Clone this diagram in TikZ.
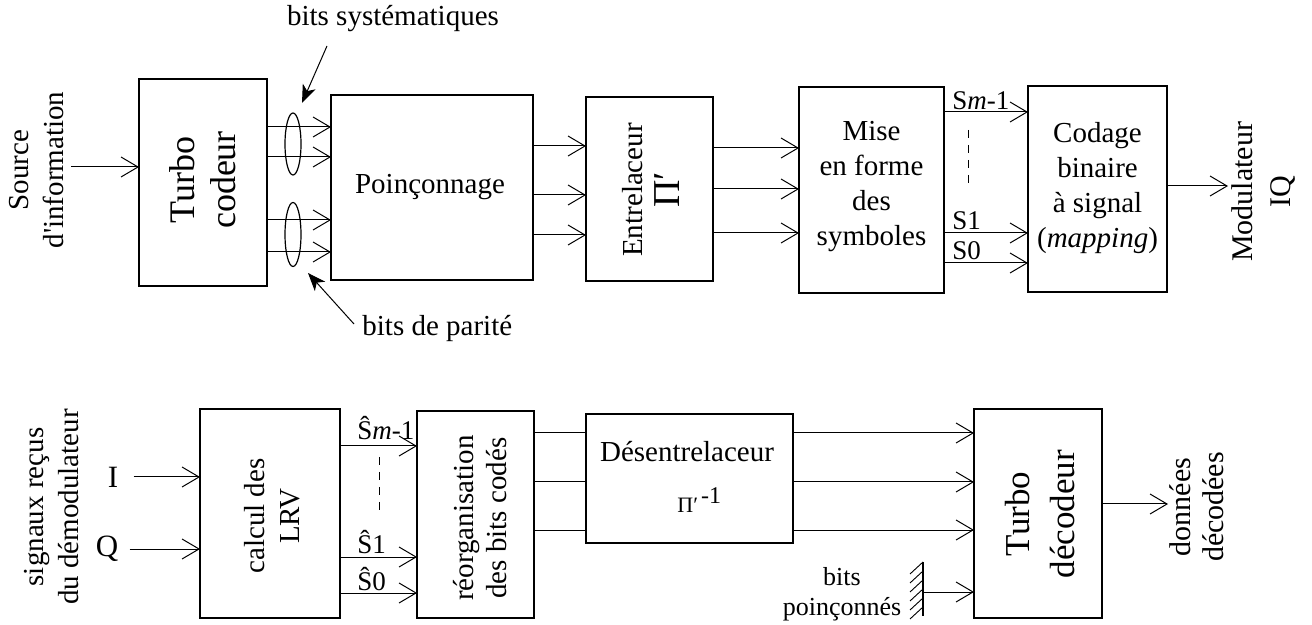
\documentclass[tikz,border=0pt]{standalone}
\usepackage{fontspec}
\setmainfont{Liberation Serif}
\usetikzlibrary{arrows.meta,shapes.geometric}
\newcommand\straightquote{\XeTeXglyph\XeTeXcharglyph"27\relax}
\begin{document}
\begin{tikzpicture}[x=0.5pt,y=-0.5pt,
  box/.style={draw, line width=0.6pt, inner sep=0pt, outer sep=0pt},
  arr/.style={line width=0.5pt, -{Straight Barb[length=8.5pt,width=10pt,line width=0.5pt]}},
  wire/.style={line width=0.5pt},
  pointer/.style={line width=0.5pt, -{Stealth[length=9pt,width=7pt,inset=2.5pt]}},
  lbl/.style={font=\fontsize{14.5}{17.5}\selectfont, inner sep=0pt, align=center},
  sig/.style={font=\fontsize{13.5}{15}\selectfont, inner sep=0pt, anchor=base west},
  dashline/.style={line width=0.5pt, dash pattern=on 4pt off 3.5pt},
  ell/.style={draw, ellipse, line width=0.6pt, inner sep=0pt, minimum width=8pt}
]
\useasboundingbox (0,0) rectangle (1312,625);

% ---------- top row boxes ----------
\node[box, minimum width=64pt, minimum height=103.5pt] (tc) at (203,182.5) {};
\node[box, minimum width=101pt, minimum height=92.5pt] (poin) at (432,187.5) {};
\node[box, minimum width=63.5pt, minimum height=92pt] (ent) at (649.5,189) {};
\node[box, minimum width=72.5pt, minimum height=103pt] (mise) at (871.5,190) {};
\node[box, minimum width=69.5pt, minimum height=103pt] (cod) at (1097.5,189) {};

\node[lbl, rotate=90, font=\fontsize{18}{20.5}\selectfont] (tct) at (203,180) {Turbo\\codeur};
\node[lbl] (point) at (430,187) {Poinçonnage};
\node[lbl, rotate=90] (entt) at (651,190) {Entrelaceur\\[1pt]{\fontsize{19}{19}\selectfont Π′}};
\node[lbl] (miset) at (871.5,187) {Mise\\en forme\\des\\symboles};
\node[lbl] (codt) at (1097.5,188) {Codage\\binaire\\à signal\\(\textit{mapping})};

\node[lbl, rotate=90] (srct) at (37,170) {Source\\d\straightquote information};
\coordinate (src) at (71,167);
\draw[arr] (src) -- (src -| tc.west);

\node[lbl, rotate=90, font=\fontsize{15}{19}\selectfont] (modt) at (1264,192) {Modulateur\\IQ};
\coordinate (mod) at (1228,186);
\draw[arr] (cod.east |- mod) -- (mod);

% turbo codeur -> poinconnage
\foreach \y in {127,157,220,252}
  \draw[arr] (tc.east |- 0,\y) -- (poin.west |- 0,\y);
\node[ell, minimum height=31pt] (e1) at (293,144) {};
\node[ell, minimum height=32pt] (e2) at (293,234.5) {};

\node[lbl] (syst) at (393,19) {bits systématiques};
\coordinate (sysa) at (327,46);
\coordinate (sysb) at (302,103);
\draw[pointer] (sysa) -- (sysb);

\node[lbl, anchor=base west] (part) at (362,336) {bits de parité};
\coordinate (para) at (354,324);
\coordinate (parb) at (308,273);
\draw[pointer] (para) -- (parb);

% poinconnage -> entrelaceur
\foreach \y in {146,195,235}
  \draw[arr] (poin.east |- 0,\y) -- (ent.west |- 0,\y);
% entrelaceur -> mise en forme
\foreach \y in {148,189,233}
  \draw[arr] (ent.east |- 0,\y) -- (mise.west |- 0,\y);
% mise en forme -> codage
\foreach \y in {112,233,263}
  \draw[arr] (mise.east |- 0,\y) -- (cod.west |- 0,\y);
\node[sig] (sm) at (952,110) {S\textit{m}-1};
\node[sig] (s1) at (952,230) {S1};
\node[sig] (s0) at (952,260) {S0};
\coordinate (d1a) at (968,130);
\coordinate (d1b) at (968,186);
\draw[dashline] (d1a) -- (d1b);

% ---------- bottom row ----------
\node[box, minimum width=70pt, minimum height=104.5pt] (lrv) at (270,513.5) {};
\node[box, minimum width=58.5pt, minimum height=103.5pt] (reorg) at (475.5,514.5) {};
\node[box, minimum width=103.5pt, minimum height=64.5pt] (des) at (689.5,478.5) {};
\node[box, minimum width=64pt, minimum height=104.5pt] (td) at (1038,513.5) {};

\node[lbl, rotate=90] (lrvt) at (272,516) {calcul des\\LRV};
\node[lbl, rotate=90, font=\fontsize{14.5}{16.5}\selectfont] (reorgt) at (480,518) {réorganisation\\des bits codés};
\node[lbl, anchor=base] (dest) at (687,462) {Désentrelaceur};
\node[inner sep=0pt, anchor=base west, font=\fontsize{11}{13}\selectfont] (pinv) at (677,513) {Π′\kern1.5pt\raisebox{5pt}{\fontsize{12}{13}\selectfont -1}};
\node[lbl, rotate=90, font=\fontsize{17.5}{22.5}\selectfont] (tdt) at (1040,514) {Turbo\\décodeur};

\node[lbl, rotate=90] (sigt) at (52,507) {signaux reçus\\du démodulateur};
\node[lbl, font=\fontsize{15.5}{17}\selectfont] (it) at (113,477) {I};
\node[lbl, font=\fontsize{15.5}{17}\selectfont] (qt) at (107,549) {Q};
\draw[arr] ([xshift=7.5pt]it.east) -- (it -| lrv.west);
\draw[arr] ([xshift=5.5pt]qt.east) -- (qt -| lrv.west);

% lrv -> reorg
\foreach \y in {446,557,593}
  \draw[arr] (lrv.east |- 0,\y) -- (reorg.west |- 0,\y);
\node[sig] (hsm) at (357,440) {Ŝ\textit{m}-1};
\node[sig] (hs1) at (357,553) {Ŝ1};
\node[sig] (hs0) at (357,590) {Ŝ0};
\coordinate (d2a) at (379,457);
\coordinate (d2b) at (379,511);
\draw[dashline] (d2a) -- (d2b);

% reorg -> desentrelaceur (plain lines)
\foreach \y in {433,482,530}
  \draw[wire] (reorg.east |- 0,\y) -- (des.west |- 0,\y);
% desentrelaceur -> turbo decodeur
\foreach \y in {433,482,530}
  \draw[arr] (des.east |- 0,\y) -- (td.west |- 0,\y);

% punctured bits (ground symbol)
\node[inner sep=0pt, align=center, font=\fontsize{13}{15}\selectfont] (punct) at (842,594) {bits\\poinçonnés};
\coordinate (gtop) at (923,562);
\coordinate (gbot) at (923,616);
\draw[line width=0.6pt] (gtop) -- (gbot);
\foreach \y in {562,571,580,589,598,607}
  \draw[line width=0.45pt] (923,\y) -- (910,\y+12);
\coordinate (gnd) at (923,592);
\draw[arr] (gnd) -- (gnd -| td.west);

% output
\coordinate (out) at (1168,504);
\draw[arr] (td.east |- out) -- (out);
\node[lbl, rotate=90, font=\fontsize{15}{16.5}\selectfont] (dect) at (1197,507) {données\\décodées};
\end{tikzpicture}
\end{document}
